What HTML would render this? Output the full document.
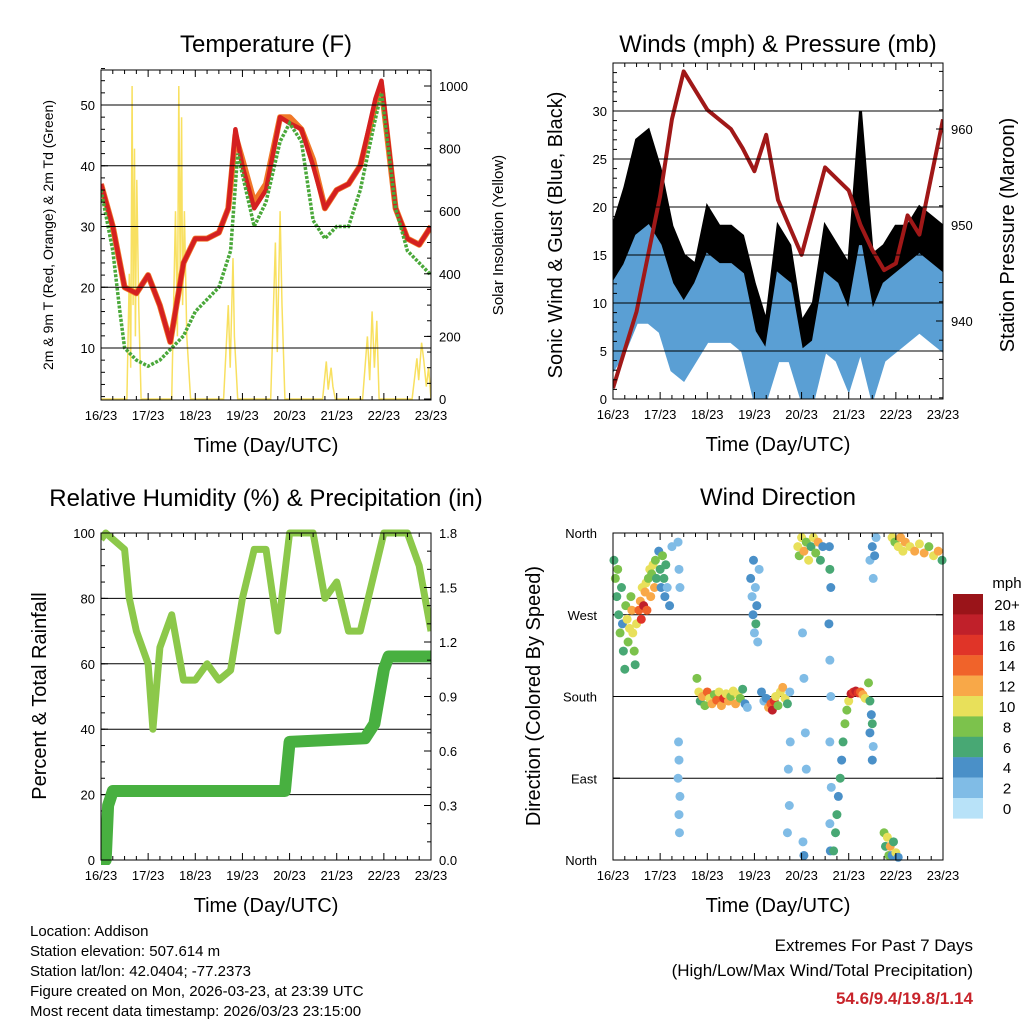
<!DOCTYPE html>
<html><head><meta charset="utf-8"><style>
body{margin:0;background:#fff}
svg{display:block;font-family:"Liberation Sans",sans-serif}
</style></head><body>
<svg id="s" width="1024" height="1024" viewBox="0 0 1024 1024"></svg>
<script>
// ---------- DATA ----------
const dayLabels=["16/23","17/23","18/23","19/23","20/23","21/23","22/23","23/23"];
const tempTickVals=[10,20,30,40,50];
const solarTickVals=[0,200,400,600,800,1000];
const tempDays=[0,0.25,0.5,0.75,1.0,1.25,1.47,1.6,1.75,2.0,2.25,2.5,2.7,2.85,3.0,3.25,3.5,3.8,4.0,4.25,4.5,4.75,5.0,5.25,5.5,5.82,5.95,6.25,6.5,6.75,7];
const tempRed=[37,30,20,19,22,17,11,17,24,28,28,29,33,46,40,33,36,48,47,46,40,33,36,37,40,51,54,33,28,27,30];
const tempOrange=[37,30,20,19,22,17,11,17,24,28,28,29,33,45,41,34,37,48,48,46,41,33,36,37,40,50,53,33,28,27,30];
const tdDays=[0,0.25,0.4,0.5,0.75,1.0,1.25,1.5,1.75,2.0,2.25,2.5,2.75,2.9,3.25,3.5,3.8,4.0,4.25,4.5,4.75,5.0,5.25,5.5,5.8,5.95,6.25,6.5,6.75,7];
const tdGreen=[36,26,16,10,8,7,8,10,12,16,18,20,26,42,30,34,44,47,44,31,28,30,30,36,47,52,33,26,24,22];
const solarDays=[0,0.55,0.6,0.63,0.66,0.68,0.71,0.73,0.76,0.8,0.85,1.5,1.58,1.62,1.65,1.68,1.71,1.73,1.77,1.82,1.9,2.6,2.7,2.74,2.8,2.83,2.9,3.6,3.7,3.74,3.8,3.84,3.9,4.7,4.78,4.82,4.88,4.92,4.97,5.55,5.65,5.7,5.75,5.8,5.85,5.9,6.6,6.7,6.74,6.8,6.85,6.9,6.95,7];
const solarVals=[0,0,400,100,1000,300,800,200,700,300,0,0,600,200,1000,400,900,300,600,200,0,0,300,100,450,200,0,0,500,150,600,300,0,0,120,30,100,40,0,0,200,60,280,100,250,0,0,130,60,180,120,40,100,0];
const windDays=[0,0.25,0.5,0.75,1,1.25,1.5,1.75,2,2.25,2.5,2.75,3,3.25,3.5,3.75,4,4.25,4.5,4.75,5,5.25,5.5,5.75,6,6.25,6.5,6.75,7];
const gustHi=[18,22,27,28,24,18,15,14,20,18,18,17,12,8,18,16,8,10,18,16,14,30,15,16,18,18,20,19,18];
const gustLo=[6,10,13,14,12,8,6,8,11,11,11,10,4,2,9,8,1,2,9,8,5,10,5,8,9,10,11,10,9];
const windHi=[12,14,17,18,16,12,10,12,15,14,14,13,7,5,13,12,5,6,13,12,9,16,9,12,13,14,15,14,13];
const windLo=[3,5,8,8,7,3,2,4,6,6,6,5,0,0,4,4,0,0,5,4,1,5,0,4,5,6,7,6,5];
const presDays=[0,0.5,1,1.25,1.5,2,2.5,2.75,3,3.25,3.5,4,4.5,5,5.25,5.5,5.75,6,6.25,6.5,7];
const pressure=[933,941,953,961,966,962,960,958,955.6,959.4,952.6,946.9,956,953.6,950,947.4,945.3,946,951,949,961];
const windTicks=[0,5,10,15,20,25,30];
const presTicks=[940,950,960];
const rhDays=[0,0.1,0.5,0.6,0.75,1.0,1.1,1.25,1.5,1.75,2.0,2.25,2.5,2.75,3.0,3.25,3.5,3.75,4.0,4.25,4.5,4.75,5.0,5.25,5.5,6.0,6.5,6.75,7];
const rhVals=[98,100,95,80,70,60,40,65,75,55,55,60,55,58,80,95,95,70,100,100,100,80,85,70,70,100,100,90,70];
const rainDays=[0,0.1,0.15,0.25,3.9,4.0,5.6,5.8,6.0,6.1,7];
const rainVals=[0,0,0.3,0.38,0.38,0.65,0.67,0.75,1.05,1.12,1.12];
const rhTicks=[0,20,40,60,80,100];
const rainTicks=["0.0","0.3","0.6","0.9","1.2","1.5","1.8"];
const dirTicks=["North","East","South","West","North"];
const speedLabels=["20+","18","16","14","12","10","8","6","4","2","0"];
const speedColors=["#9a1419","#c0202a","#e03428","#f0632a","#f8a848","#e8e05a","#7cc24c","#48a874","#4a90c8","#80bce6","#b8e2f8"];
const windDirObs=[[0.02,330,6],[0.05,310,8],[0.08,290,6],[0.1,320,8],[0.12,270,6],[0.15,250,8],[0.18,300,6],[0.2,260,4],[0.22,230,6],[0.25,210,6],[0.27,280,8],[0.3,265,10],[0.32,240,8],[0.35,255,10],[0.38,290,8],[0.4,275,12],[0.42,250,10],[0.45,230,8],[0.47,215,6],[0.5,260,10],
[0.55,275,14],[0.58,285,12],[0.6,265,16],[0.62,300,10],[0.65,280,18],[0.68,295,12],[0.7,305,10],[0.72,275,14],[0.75,310,8],[0.78,320,10],[0.8,290,12],[0.82,315,8],[0.85,325,10],[0.88,300,12],[0.9,330,8],[0.92,310,6],
[0.97,340,4],[1.0,320,6],[1.02,300,4],[1.05,335,8],[1.08,310,6],[1.1,290,4],[1.12,325,6],[1.15,300,2],[1.2,280,4],[1.25,345,2],
[1.38,350,2],[1.4,320,2],[1.42,300,2],[1.4,110,2],[1.38,90,2],[1.42,70,2],[1.4,50,2],[1.41,30,2],[1.39,130,2],
[1.78,200,8],[1.82,185,10],[1.85,175,6],[1.9,180,12],[1.95,170,8],[2.0,185,14],[2.05,178,10],[2.1,172,12],[2.15,182,8],[2.2,176,14],[2.25,185,10],[2.3,170,12],[2.35,178,16],[2.4,183,10],[2.45,175,12],[2.5,180,8],[2.55,186,10],[2.6,172,12],[2.65,182,10],[2.7,178,8],[2.75,188,6],[2.8,172,4],[2.85,168,2],
[2.92,310,4],[2.95,290,2],[2.97,270,4],[3.0,250,2],[3.02,300,2],[3.05,280,4],[3.07,240,2],[3.1,320,2],[2.98,330,4],[3.03,260,6],
[3.15,185,4],[3.2,175,2],[3.25,178,4],[3.3,168,12],[3.35,172,14],[3.38,165,18],[3.42,175,16],[3.45,180,10],[3.5,170,8],[3.55,185,10],[3.6,190,12],[3.65,178,10],[3.7,172,6],[3.75,185,2],[3.72,100,2],[3.74,60,2],[3.7,30,2],[3.76,130,2],
[3.92,345,10],[3.95,335,8],[4.0,355,10],[4.05,340,12],[4.1,350,8],[4.15,330,10],[4.2,345,6],[4.25,355,10],[4.3,338,8],[4.35,350,12],[4.4,330,6],[4.45,345,4],[4.02,250,2],[4.05,200,2],[4.08,140,2],[4.1,100,2],[4.03,20,2],[4.05,5,4],
[4.6,320,6],[4.62,300,4],[4.58,260,4],[4.6,220,2],[4.62,180,2],[4.6,130,2],[4.63,80,2],[4.6,40,2],[4.61,10,4],[4.59,345,4],
[4.68,10,6],[4.72,30,6],[4.75,50,6],[4.78,70,4],[4.82,90,6],[4.85,110,4],[4.88,130,6],[4.92,150,8],[4.96,165,8],[5.0,175,10],
[5.05,183,18],[5.1,185,16],[5.15,186,18],[5.2,184,16],[5.25,185,14],[5.3,182,12],[5.35,178,10],
[5.42,195,8],[5.45,175,6],[5.48,160,4],[5.5,150,6],[5.45,140,4],[5.52,125,2],[5.5,110,4],
[5.45,330,2],[5.5,345,4],[5.55,335,4],[5.58,355,2],[5.52,310,2],
[5.75,30,8],[5.78,15,6],[5.82,25,10],[5.85,5,8],[5.88,15,12],[5.92,5,4],[5.95,20,6],[6.0,8,10],[6.05,3,4],
[5.92,355,10],[5.98,350,8],[6.05,345,10],[6.1,355,12],[6.15,340,10],[6.2,350,12],[6.3,345,10],[6.4,340,12],[6.5,348,10],[6.6,338,12],[6.7,345,8],[6.8,335,10],[6.9,340,12],[6.98,330,6]];

// ---------- HELPERS ----------
const S=document.getElementById('s');const NS="http://www.w3.org/2000/svg";
function el(tag,at,parent){const e=document.createElementNS(NS,tag);for(const k in at)e.setAttribute(k,at[k]);(parent||S).appendChild(e);return e;}
function txt(x,y,s,size,anchor,extra){const t=el('text',Object.assign({x:x,y:y,'font-size':size,'text-anchor':anchor||'middle',fill:'#000'},extra||{}));t.textContent=s;return t;}
function scale(d0,d1,r0,r1){return v=>r0+(v-d0)/(d1-d0)*(r1-r0);}
function frame(L,T,R,B,name){
  const g=el('g',{});
  el('rect',{x:L,y:T,width:R-L,height:B-T,fill:'none',stroke:'#000','stroke-width':1},g);
  const xs=scale(0,7,L,R);
  for(let i=0;i<=28;i++){const x=xs(i/4),len=i%4==0?7:4;
    el('line',{x1:x,y1:B,x2:x,y2:B-len,stroke:'#000'},g);el('line',{x1:x,y1:T,x2:x,y2:T+len,stroke:'#000'},g);}
  dayLabels.forEach((s,i)=>{const t=txt(xs(i),B+20,s,13);});
  const xt=txt((L+R)/2,B+52,"Time (Day/UTC)",20);
  return xs;
}
function yticks(L,R,ys,vals,labels,side,grid,minorStep,lo,hi){
  vals.forEach((v,i)=>{const y=ys(v);
    if(grid)el('line',{x1:L,y1:y,x2:R,y2:y,stroke:'#000','stroke-width':1});
    const x0=side=='l'?L:R,dir=side=='l'?1:-1;
    el('line',{x1:x0,y1:y,x2:x0+dir*7,y2:y,stroke:'#000'});
    const t=txt(side=='l'?L-6:R+8,y+5,labels[i],13,side=='l'?'end':'start');
    });
  if(minorStep){const x0=side=='l'?L:R,dir=side=='l'?1:-1;
    for(let v=Math.ceil(lo/minorStep)*minorStep;v<=hi;v+=minorStep){el('line',{x1:x0,y1:ys(v),x2:x0+dir*4,y2:ys(v),stroke:'#000'});}}
}
function path(xs,ys,dx,dy){return dx.map((d,i)=>(i?'L':'M')+xs(d).toFixed(1)+','+ys(dy[i]).toFixed(1)).join('');}
function clip(id,L,T,R,B){const c=el('clipPath',{id:id});el('rect',{x:L,y:T,width:R-L,height:B-T},c);}

// ---------- PANEL 1: TEMPERATURE ----------
(function(){const L=101,T=70,R=431,B=400;clip('c1',L,T,R,B);
 const yT=scale(10,50,348,105),yS=scale(0,1000,399,86);
 const t=txt(266,52,"Temperature (F)",24);
 const g=el('g',{'clip-path':'url(#c1)'});
 const xs=scale(0,7,L,R);
 const sp=el('path',{d:path(xs,yS,solarDays,solarVals),fill:'none',stroke:'#f8e060','stroke-width':1.5},g);
 yticks(L,R,yT,tempTickVals,tempTickVals.map(String),'l',true,2,2,56);
 const o=el('path',{d:path(xs,yT,tempDays,tempOrange),fill:'none',stroke:'#f07828','stroke-width':6,'stroke-linejoin':'round'},g);
 const r=el('path',{d:path(xs,yT,tempDays,tempRed),fill:'none',stroke:'#d42020','stroke-width':4.5,'stroke-linejoin':'round'},g);
 const gr=el('path',{d:path(xs,yT,tdDays,tdGreen),fill:'none',stroke:'#4aa83a','stroke-width':3.5,'stroke-dasharray':'3,1.5'},g);
 frame(L,T,R,B,'temperature-axes');
 yticks(L,R,yS,solarTickVals,solarTickVals.map(String),'r',false,50,0,1050);
 const a=txt(0,0,"2m & 9m T (Red, Orange) & 2m Td (Green)",14,'middle',{transform:'translate(53,235) rotate(-90)'});
 const b=txt(0,0,"Solar Insolation (Yellow)",15,'middle',{transform:'translate(503,235) rotate(-90)'});
})();

// ---------- PANEL 2: WINDS ----------
(function(){const L=613,T=63,R=943,B=399;clip('c2',L,T,R,B);
 const yW=scale(0,30,399,111),yP=scale(940,960,321,129);
 const t=txt(778,52,"Winds (mph) & Pressure (mb)",24);
 const g=el('g',{'clip-path':'url(#c2)'});
 const xs=scale(0,7,L,R);
 const band=(hi,lo,col,name)=>{const d=path(xs,yW,windDays,hi)+path(xs,yW,windDays.slice().reverse(),lo.slice().reverse()).replace('M','L')+'Z';
  const p=el('path',{d:d,fill:col,stroke:col,'stroke-width':3},g);};
 band(gustHi,gustLo,'#000','gust-black-band');
 band(windHi,windLo,'#5a9fd4','sonic-wind-blue-band');
 yticks(L,R,yW,windTicks,windTicks.map(String),'l',true,1,0,35);
 const p=el('path',{d:path(xs,yP,presDays,pressure),fill:'none',stroke:'#a01818','stroke-width':4,'stroke-linejoin':'round'},g);
 frame(L,T,R,B,'winds-axes');
 yticks(L,R,yP,presTicks,presTicks.map(String),'r',false,2,932,966);
 const a=txt(0,0,"Sonic Wind & Gust (Blue, Black)",20,'middle',{transform:'translate(562,235) rotate(-90)'});
 const b=txt(0,0,"Station Pressure (Maroon)",20,'middle',{transform:'translate(1014,235) rotate(-90)'});
})();

// ---------- PANEL 3: RH & PRECIP ----------
(function(){const L=101,T=533,R=431,B=860;clip('c3',L,T-5,R,B+5);
 const yH=scale(0,100,860,533),yR=scale(0,1.8,860,533);
 const t=txt(266,506,"Relative Humidity (%) & Precipitation (in)",24);
 yticks(L,R,yH,rhTicks.slice(1,5),rhTicks.slice(1,5).map(String),'l',true,5,0,100);
 yticks(L,R,yH,[0,100],['0','100'],'l',false);
 const g=el('g',{'clip-path':'url(#c3)'});
 const xs=scale(0,7,L,R);
 const h=el('path',{d:path(xs,yH,rhDays,rhVals),fill:'none',stroke:'#8cc84a','stroke-width':7,'stroke-linejoin':'round'},g);
 const r=el('path',{d:path(xs,yR,rainDays,rainVals),fill:'none',stroke:'#48b040','stroke-width':12,'stroke-linejoin':'round'},g);
 frame(L,T,R,B,'humidity-axes');
 yticks(L,R,yR,rainTicks.map(Number),rainTicks,'r',false,0.1,0,1.8);
 const a=txt(0,0,"Percent & Total Rainfall",20,'middle',{transform:'translate(46,696) rotate(-90)'});
})();

// ---------- PANEL 4: WIND DIRECTION ----------
(function(){const L=613,T=533,R=943,B=860;clip('c4',L-5,T-5,R+5,B+5);
 const yD=scale(0,360,860,533);
 const t=txt(778,505,"Wind Direction",24);
 yticks(L,R,yD,[90,180,270],['','',''],'l',true);
 dirTicks.forEach((s,i)=>{const y=yD(i*90);el('line',{x1:L,y1:y,x2:L+7,y2:y,stroke:'#000'});el('line',{x1:R,y1:y,x2:R-7,y2:y,stroke:'#000'});
  const tt=txt(L-16,y+5,s,13,'end');});
 const g=el('g',{'clip-path':'url(#c4)'});
 const xs=scale(0,7,L,R);
 windDirObs.forEach(o=>{const idx=Math.max(0,10-Math.min(10,Math.floor(o[2]/2)));
  const c=el('circle',{cx:xs(o[0]),cy:yD(o[1]),r:4.5,fill:speedColors[idx]},g);
  
  });
 frame(L,T,R,B,'wind-direction-axes');
 const a=txt(0,0,"Direction (Colored By Speed)",20,'middle',{transform:'translate(540,696) rotate(-90)'});
 const cb=el('g',{});
 const u=txt(1007,588,"mph",15,'middle',{});
 speedLabels.forEach((s,i)=>{const y=594+i*20.4;el('rect',{x:953,y:y,width:30,height:20.6,fill:speedColors[i]},cb);
  const l=txt(1007,y+16,s,15,'middle',{});});
})();

// ---------- FOOTER ----------
["Location: Addison","Station elevation: 507.614 m","Station lat/lon: 42.0404; -77.2373","Figure created on Mon, 2026-03-23, at 23:39 UTC","Most recent data timestamp: 2026/03/23 23:15:00"].forEach((s,i)=>{
 const t=txt(30,936+i*20,s,15,'start');});
const e1=txt(973,951,"Extremes For Past 7 Days",17,'end');
const e2=txt(973,976,"(High/Low/Max Wind/Total Precipitation)",17,'end');
const e3=txt(973,1004,"54.6/9.4/19.8/1.14",17,'end',{fill:'#c8242b','font-weight':'bold'});
</script>
</body></html>
